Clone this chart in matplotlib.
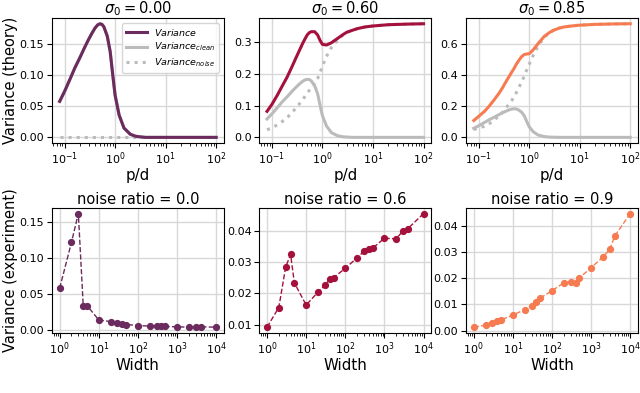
import matplotlib
matplotlib.use("Agg")
import matplotlib.pyplot as plt

# theory curves, values
pd_ratio = [0.08, 0.1, 0.13, 0.16, 0.2, 0.25, 0.3, 0.35, 0.4, 0.45, 0.5, 0.55,
            0.6, 0.7, 0.8, 0.9, 1.0, 1.2, 1.5, 2.0, 2.5, 3.0, 4.0, 5.0, 7.0,
            10.0, 20.0, 50.0, 100.0]
var_clean = [0.058, 0.074, 0.095, 0.112, 0.128, 0.145, 0.158, 0.168, 0.176,
             0.181, 0.183, 0.182, 0.178, 0.163, 0.138, 0.100, 0.068, 0.036,
             0.015, 0.005, 0.002, 0.001, 0.0, 0.0, 0.0, 0.0, 0.0, 0.0, 0.0]
noise_00 = [0.0] * 29
noise_06 = [0.024, 0.030, 0.040, 0.050, 0.062, 0.078, 0.093, 0.106, 0.118,
            0.129, 0.140, 0.148, 0.155, 0.170, 0.185, 0.205, 0.225, 0.255,
            0.283, 0.307, 0.321, 0.330, 0.338, 0.343, 0.348, 0.351, 0.355,
            0.357, 0.358]
noise_085 = [0.050, 0.060, 0.071, 0.086, 0.110, 0.135, 0.162, 0.190, 0.213,
             0.236, 0.257, 0.283, 0.306, 0.352, 0.392, 0.434, 0.467, 0.524,
             0.585, 0.642, 0.668, 0.684, 0.700, 0.707, 0.713, 0.718, 0.723,
             0.726, 0.727]
total_00 = var_clean
total_06 = [0.082, 0.104, 0.135, 0.162, 0.190, 0.223, 0.251, 0.274, 0.294,
            0.310, 0.323, 0.330, 0.333, 0.333, 0.323, 0.305, 0.293, 0.291,
            0.298, 0.312, 0.323, 0.331, 0.338, 0.343, 0.348, 0.351, 0.355,
            0.357, 0.358]
total_085 = [0.108, 0.134, 0.166, 0.198, 0.238, 0.280, 0.320, 0.358, 0.389,
             0.417, 0.440, 0.465, 0.484, 0.515, 0.530, 0.534, 0.535, 0.560,
             0.600, 0.647, 0.670, 0.685, 0.700, 0.707, 0.713, 0.718, 0.723,
             0.726, 0.727]

# experiment
widths = [1, 2, 3, 4, 5, 10, 20, 30, 40, 50, 100, 200, 300, 400, 500,
          1000, 2000, 3000, 4000, 10000]
exp_00 = [0.0586, 0.122, 0.162, 0.0345, 0.0345, 0.0145, 0.0123, 0.0100,
          0.0090, 0.0082, 0.0068, 0.0060, 0.0055, 0.0055, 0.0055, 0.0050,
          0.0045, 0.0050, 0.0050, 0.0045]
exp_06 = [0.0092, 0.0155, 0.0285, 0.0325, 0.0234, 0.0163, 0.0204, 0.0226,
          0.0246, 0.0250, 0.0281, 0.0314, 0.0335, 0.0341, 0.0345, 0.0377,
          0.0375, 0.0401, 0.0408, 0.0456]
exp_09 = [0.0013, 0.0021, 0.0030, 0.0036, 0.0041, 0.0059, 0.0080, 0.0094,
          0.0109, 0.0124, 0.0152, 0.0182, 0.0186, 0.0180, 0.0200, 0.0240,
          0.0280, 0.0310, 0.0360, 0.0446]

sigmas = ["0.00", "0.60", "0.85"]
ratios = ["0.0", "0.6", "0.9"]
colors = ["#6c2b5e", "#a5113d", "#f77b50"]
totals = [total_00, total_06, total_085]
noises = [noise_00, noise_06, noise_085]
exps = [exp_00, exp_06, exp_09]

fig = plt.figure(figsize=(6.4, 3.93), dpi=100)
lefts = [0.081, 0.405, 0.728]
w, h = 0.269, 0.318

for i in range(3):
    ax = fig.add_axes([lefts[i], 0.636, w, h])
    ax.plot(pd_ratio, totals[i], color=colors[i], lw=2.2, label="$Variance$", zorder=3)
    ax.plot(pd_ratio, var_clean, color="#bbbbbb", lw=2.2, label="$Variance_{clean}$")
    ax.plot(pd_ratio, noises[i], color="#bbbbbb", lw=2.2, ls=":", label="$Variance_{noise}$")
    ax.set_xscale("log")
    ax.grid(True, color="#d8d8d8", lw=1)
    ax.set_title(r"$\sigma_0 = " + sigmas[i] + "$", fontsize=10.5, pad=3)
    ax.set_xlabel("p/d", fontsize=10.8, labelpad=0.5)
    ax.tick_params(labelsize=8, pad=2)
    if i == 0:
        ax.set_ylabel("Variance (theory)", fontsize=10.5, labelpad=1)
        ax.legend(fontsize=6.8, loc="upper right", handlelength=2.2,
                  borderpad=0.4, labelspacing=0.35)

for i in range(3):
    ax = fig.add_axes([lefts[i], 0.153, w, h])
    ax.plot(widths, exps[i], color=colors[i], ls="--", lw=1, marker="o", ms=4.2)
    ax.set_xscale("log")
    ax.grid(True, color="#d8d8d8", lw=1)
    ax.set_title("noise ratio = " + ratios[i], fontsize=10.5, pad=3)
    ax.set_xlabel("Width", fontsize=10.8, labelpad=0.5)
    ax.tick_params(labelsize=8, pad=2)
    if i == 0:
        ax.set_ylabel("Variance (experiment)", fontsize=10.5, labelpad=1)

fig.savefig("out.png", dpi=100)
